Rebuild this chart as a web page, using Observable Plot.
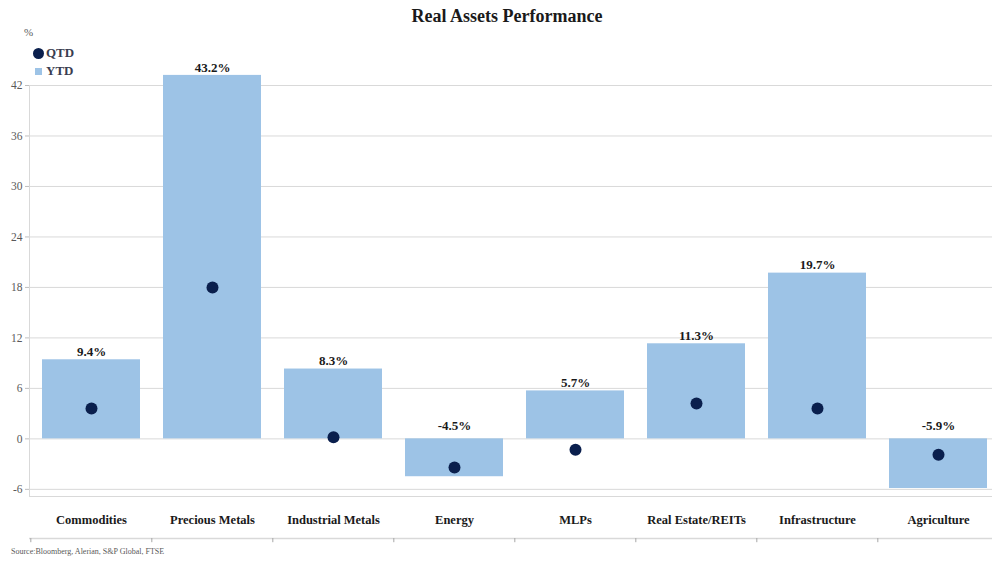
<!DOCTYPE html>
<html><head><meta charset="utf-8">
<script src="https://cdn.jsdelivr.net/npm/d3@7"></script>
<script src="https://cdn.jsdelivr.net/npm/@observablehq/plot@0.6"></script>
<style>
html,body{margin:0;padding:0;background:#fff;overflow:hidden;}
#wrap{position:relative;width:992px;height:561px;font-family:"Liberation Serif","Times New Roman",serif;overflow:hidden;}
#chart{position:absolute;left:0;top:0;}
.t{position:absolute;white-space:nowrap;line-height:1;}
</style></head><body>
<div id="wrap">
<div id="chart"></div>
<div class="t" style="left:0;width:1014px;top:7px;text-align:center;font-weight:bold;font-size:18px;color:#1a1a1a">Real Assets Performance</div>
<div class="t" style="left:24px;top:27px;font-size:11px;color:#595959">%</div>
<div class="t" style="left:33px;top:48px;width:11px;height:11px;border-radius:50%;background:#0a1f4d"></div>
<div class="t" style="left:46px;top:46px;font-size:13px;font-weight:bold;color:#3a3d4f">QTD</div>
<div class="t" style="left:35px;top:68px;width:7px;height:7px;background:#9dc3e6"></div>
<div class="t" style="left:46px;top:64px;font-size:13px;font-weight:bold;color:#3a3d4f">YTD</div>
<div class="t" style="left:11px;top:548px;font-size:8px;color:#595959">Source:Bloomberg, Alerian, S&amp;P Global, FTSE</div>
</div>
<script>
const categories = ["Commodities","Precious Metals","Industrial Metals","Energy","MLPs","Real Estate/REITs","Infrastructure","Agriculture"];
const ytd = [9.4, 43.2, 8.3, -4.5, 5.7, 11.3, 19.7, -5.9];
const qtd = [3.6, 18.0, 0.2, -3.4, -1.3, 4.2, 3.6, -1.9];
const yTicks = [-6, 0, 6, 12, 18, 24, 30, 36, 42];

const rows = categories.map((c, i) => ({cat: c, ytd: ytd[i], qtd: qtd[i]}));
const yMin = -6.85, yMax = 42;
const xRange = [29, 1000];
const step = (xRange[1] - xRange[0]) / categories.length;
const serif = "'Liberation Serif','Times New Roman',serif";
const grid = "#d9d9d9";

const chart = Plot.plot({
  width: 992,
  height: 561,
  marginTop: 85,
  marginBottom: 65,
  marginLeft: 29,
  marginRight: -8,
  style: {fontFamily: serif, background: "transparent", overflow: "visible"},
  x: {domain: categories, range: xRange, paddingInner: 0.19, paddingOuter: 0.095, axis: null},
  y: {domain: [yMin, yMax], axis: null},
  marks: [
    Plot.ruleY(yTicks, {stroke: grid, strokeWidth: 1}),
    Plot.frame({stroke: grid}),
    Plot.axisY({ticks: yTicks, tickSize: 4, tickPadding: 3, tickFormat: d => String(d), stroke: "#bfbfbf", fill: "#595959", fontSize: 11.5, label: null}),
    Plot.barY(rows, {x: "cat", y: "ytd", fill: "#9dc3e6"}),
    Plot.dot(rows, {x: "cat", y: "qtd", r: 6, fill: "#0a1f4d", stroke: "none"}),
    Plot.text(rows.filter(d => d.ytd >= 0), {x: "cat", y: "ytd", text: d => d.ytd.toFixed(1) + "%", dy: -8, fontWeight: "bold", fontSize: 13, fill: "#1a1a1a"}),
    Plot.text(rows.filter(d => d.ytd < 0), {x: "cat", y: () => 0, text: d => d.ytd.toFixed(1) + "%", dy: -13, fontWeight: "bold", fontSize: 13, fill: "#1a1a1a"}),
    Plot.text(categories, {x: d => d, frameAnchor: "bottom", dy: 27, fontWeight: "bold", fontSize: 12.5, fill: "#1a1a1a"}),
    Plot.ruleY([yMin], {dy: 42, stroke: grid, strokeWidth: 1.5}),
    Plot.ruleX(categories, {x: d => d, y1: () => yMin, y2: () => yMin - 0.5, dy: 42, dx: -step / 2, stroke: "#a6a6a6"})
  ]
});
document.getElementById("chart").appendChild(chart);
</script>
</body></html>
